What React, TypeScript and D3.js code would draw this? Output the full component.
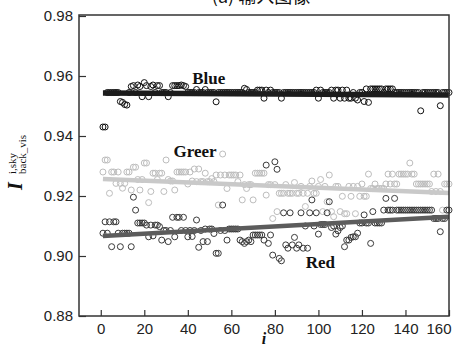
import * as d3 from "d3";
import { useEffect, useRef } from "react";

// tick values
const xTicks = [0, 20, 40, 60, 80, 100, 120, 140, 160];
const yTicks = [0.88, 0.9, 0.92, 0.94, 0.96, 0.98];

// sample index runs 1..160
const blueValues = [
    0.943, 0.943, 0.9545, 0.9545, 0.9545, 0.9545, 0.9545, 0.9545, 0.9515, 0.9512,
    0.9505, 0.9503, 0.9545, 0.9565, 0.9568, 0.9545, 0.957, 0.9565, 0.9531, 0.9578,
    0.9568, 0.9531, 0.9565, 0.957, 0.9545, 0.9568, 0.9568, 0.9545, 0.9545, 0.9545,
    0.9531, 0.9545, 0.9568, 0.9568, 0.9568, 0.9568, 0.957, 0.9568, 0.9565, 0.9545,
    0.9545, 0.9545, 0.9545, 0.9555, 0.9545, 0.9545, 0.9545, 0.9555, 0.9545, 0.9545,
    0.9545, 0.9545, 0.9514, 0.9545, 0.9545, 0.9545, 0.9545, 0.9545, 0.9545, 0.9545,
    0.9545, 0.9545, 0.9545, 0.9545, 0.9545, 0.9559, 0.9555, 0.9545, 0.9545, 0.9545,
    0.9545, 0.9553, 0.9553, 0.9553, 0.9526, 0.9553, 0.9545, 0.9553, 0.9545, 0.9545,
    0.9545, 0.9545, 0.9526, 0.9545, 0.9545, 0.9545, 0.9545, 0.9545, 0.9545, 0.9545,
    0.9545, 0.9545, 0.9545, 0.9545, 0.9545, 0.9545, 0.9545, 0.9545, 0.9553, 0.9526,
    0.9553, 0.9545, 0.9545, 0.9545, 0.9545, 0.9553, 0.9526, 0.9553, 0.9553, 0.9526,
    0.9553, 0.9526, 0.9553, 0.9526, 0.9526, 0.9545, 0.9526, 0.952, 0.9545, 0.9545,
    0.9515, 0.9557, 0.9512, 0.9557, 0.9557, 0.9557, 0.9557, 0.9557, 0.9557, 0.9545,
    0.9557, 0.9557, 0.9557, 0.9557, 0.9545, 0.9545, 0.9545, 0.9545, 0.9545, 0.9545,
    0.9545, 0.9545, 0.9545, 0.9545, 0.9545, 0.9545, 0.9484, 0.9545, 0.9545, 0.9545,
    0.9545, 0.9545, 0.9545, 0.9545, 0.9545, 0.9501, 0.9545, 0.9545, 0.9545, 0.9545
];

const greenValues = [
    0.928, 0.932, 0.932, 0.9209, 0.928, 0.928, 0.9242, 0.928, 0.9242, 0.9226,
    0.9242, 0.928, 0.928, 0.922, 0.9296, 0.9296, 0.9255, 0.922, 0.9255, 0.931,
    0.931, 0.9178, 0.9215, 0.9276, 0.9276, 0.9255, 0.9276, 0.9276, 0.9215, 0.932,
    0.9255, 0.925, 0.925, 0.922, 0.928, 0.928, 0.928, 0.928, 0.928, 0.924,
    0.928, 0.925, 0.929, 0.9248, 0.929, 0.9248, 0.9248, 0.9276, 0.9248, 0.9248,
    0.9258, 0.9248, 0.927, 0.917, 0.927, 0.934, 0.927, 0.9225, 0.927, 0.927,
    0.927, 0.927, 0.9248, 0.927, 0.9187, 0.9238, 0.9225, 0.9238, 0.9238, 0.9187,
    0.9276, 0.9276, 0.9276, 0.9276, 0.9276, 0.9203, 0.9238, 0.9238, 0.9125, 0.9238,
    0.9148, 0.9209, 0.9209, 0.9209, 0.9238, 0.9209, 0.9209, 0.9209, 0.9245, 0.9209,
    0.9209, 0.9232, 0.9209, 0.9165, 0.9209, 0.9232, 0.925, 0.9209, 0.9209, 0.9232,
    0.9255, 0.9148, 0.9232, 0.9181, 0.927, 0.9148, 0.9131, 0.9232, 0.9232, 0.9148,
    0.9199, 0.9141, 0.9141, 0.9232, 0.9199, 0.9232, 0.9141, 0.9232, 0.9199, 0.924,
    0.9199, 0.9199, 0.9273, 0.9225, 0.9225, 0.924, 0.9225, 0.9225, 0.9225, 0.9225,
    0.924, 0.9273, 0.924, 0.9273, 0.924, 0.924, 0.9273, 0.9273, 0.9273, 0.9273,
    0.9273, 0.931, 0.9273, 0.9273, 0.924, 0.924, 0.924, 0.924, 0.924, 0.924,
    0.924, 0.9215, 0.9273, 0.9215, 0.9273, 0.9215, 0.9153, 0.924, 0.924, 0.924
];

const redValues = [
    0.9076, 0.9114, 0.9076, 0.9114, 0.9031, 0.9114, 0.9114, 0.9076, 0.9031, 0.9076,
    0.9076, 0.9076, 0.9076, 0.9031, 0.9196, 0.9153, 0.911, 0.911, 0.911, 0.911,
    0.9103, 0.9064, 0.9103, 0.9067, 0.9103, 0.9103, 0.9098, 0.9053, 0.9085, 0.9085,
    0.9048, 0.9085, 0.9129, 0.9064, 0.9129, 0.9129, 0.9085, 0.9129, 0.9085, 0.9064,
    0.9085, 0.9065, 0.9085, 0.912, 0.9029, 0.9085, 0.9048, 0.909, 0.9048, 0.909,
    0.909, 0.9075, 0.9009, 0.9009, 0.9085, 0.917, 0.9085, 0.9053, 0.909, 0.909,
    0.909, 0.909, 0.909, 0.9053, 0.9048, 0.9042, 0.9048, 0.9053, 0.9048, 0.907,
    0.907, 0.907, 0.907, 0.907, 0.9053, 0.9303, 0.9042, 0.907, 0.9003, 0.9314,
    0.9289, 0.8992, 0.8984, 0.9144, 0.9037, 0.9026, 0.9144, 0.9037, 0.9062, 0.9026,
    0.9037, 0.9144, 0.9026, 0.91, 0.9026, 0.9144, 0.9187, 0.91, 0.9144, 0.9073,
    0.9105, 0.9105, 0.9105, 0.9144, 0.9181, 0.9095, 0.91, 0.9073, 0.9084, 0.9095,
    0.91, 0.9031, 0.9053, 0.9053, 0.9062, 0.9064, 0.9064, 0.9076, 0.911, 0.911,
    0.9137, 0.911, 0.911, 0.9042, 0.9148, 0.911, 0.911, 0.911, 0.911, 0.9153,
    0.9192, 0.9153, 0.9153, 0.9153, 0.9192, 0.9153, 0.9153, 0.9153, 0.9153, 0.9153,
    0.9153, 0.9153, 0.9153, 0.9153, 0.9153, 0.9153, 0.9153, 0.9153, 0.9153, 0.9153,
    0.9153, 0.9153, 0.9125, 0.9125, 0.9125, 0.9081, 0.9125, 0.9125, 0.9153, 0.9153
];

// fitted trend lines, [value at i=1, value at i=160]
const trendIndex = [1, 160];
const blueTrend = [0.9543, 0.9537];
const greenTrend = [0.9257, 0.921];
const redTrend = [0.9067, 0.9131];

const seriesNames = ["Blue", "Greer", "Red"];

const Chart = () => {
    const svgRef = useRef<SVGSVGElement | null>(null);

    useEffect(() => {
        if (!svgRef.current) return;
        document.body.style.margin = "0";

        const width = 459;
        const height = 348;
        const left = 79, right = 449, top = 15, bottom = 316;

        const svg = d3.select(svgRef.current)
            .attr("width", width)
            .attr("height", height)
            .style("display", "block")
            .style("background", "#fff");
        svg.selectAll("*").remove();

        const x = d3.scaleLinear().domain([-10, 160]).range([left, right]);
        const y = d3.scaleLinear().domain([0.88, 0.98]).range([bottom, 16]);

        // title, only its lower edge shows in the original
        svg.append("text")
            .attr("x", 261)
            .attr("y", 3)
            .attr("text-anchor", "middle")
            .attr("font-family", "'Noto Sans CJK SC', sans-serif")
            .attr("font-size", 18)
            .attr("fill", "#111")
            .text("(a) 输入图像");

        const series = [
            { name: seriesNames[0], values: blueValues, trend: blueTrend, pt: "#111", ln: "#1c1c1c", lw: 5.5 },
            { name: seriesNames[1], values: greenValues, trend: greenTrend, pt: "#bdbdbd", ln: "#c9c9c9", lw: 4.5 },
            { name: seriesNames[2], values: redValues, trend: redTrend, pt: "#3a3a3a", ln: "#5c5c5c", lw: 4.5 }
        ];

        const line = d3.line<[number, number]>()
            .x(d => x(d[0]))
            .y(d => y(d[1]));

        series.forEach(s => {
            svg.append("g")
                .selectAll("circle")
                .data(s.values)
                .join("circle")
                .attr("cx", (_, i) => x(i + 1))
                .attr("cy", d => y(d))
                .attr("r", 3)
                .attr("fill", "none")
                .attr("stroke", s.pt)
                .attr("stroke-width", 1);

            svg.append("path")
                .datum(trendIndex.map((t, k) => [t, s.trend[k]] as [number, number]))
                .attr("fill", "none")
                .attr("stroke", s.ln)
                .attr("stroke-width", s.lw)
                .attr("d", line);
        });

        // series labels
        const labelAt = [
            { i: 42, v: 0.9573 },
            { i: 33.4, v: 0.9329 },
            { i: 94.2, v: 0.8959 }
        ];
        seriesNames.forEach((n, k) => {
            svg.append("text")
                .attr("x", x(labelAt[k].i))
                .attr("y", y(labelAt[k].v))
                .attr("font-family", "'Liberation Serif', 'Times New Roman', serif")
                .attr("font-weight", "bold")
                .attr("font-size", 17)
                .attr("fill", "#111")
                .text(n);
        });

        // frame
        svg.append("rect")
            .attr("x", left)
            .attr("y", top)
            .attr("width", right - left)
            .attr("height", bottom - top)
            .attr("fill", "none")
            .attr("stroke", "#333")
            .attr("stroke-width", 1.5);

        // x axis, ticks pointing inward
        const xAxis = svg.append("g")
            .attr("transform", `translate(0,${bottom})`)
            .call(d3.axisBottom(x).tickValues(xTicks).tickSizeInner(-6).tickSizeOuter(0).tickPadding(7));
        xAxis.select(".domain").remove();
        xAxis.selectAll("line").attr("stroke", "#333").attr("stroke-width", 1.2);
        xAxis.selectAll("text")
            .attr("font-family", "'Liberation Sans', Arial, sans-serif")
            .attr("font-size", 15)
            .attr("fill", "#222");
        xAxis.selectAll<SVGTextElement, number>("text")
            .filter(d => d === 160)
            .attr("text-anchor", "end")
            .attr("dx", 2);

        // y axis
        const yAxis = svg.append("g")
            .attr("transform", `translate(${left},0)`)
            .call(d3.axisLeft(y).tickValues(yTicks).tickFormat(d3.format(".2f")).tickSizeInner(-7).tickSizeOuter(0).tickPadding(6));
        yAxis.select(".domain").remove();
        yAxis.selectAll("line").attr("stroke", "#333").attr("stroke-width", 1.2);
        yAxis.selectAll("text")
            .attr("font-family", "'Liberation Sans', Arial, sans-serif")
            .attr("font-size", 15)
            .attr("fill", "#222");

        // axis titles
        svg.append("text")
            .attr("x", 264)
            .attr("y", 344)
            .attr("text-anchor", "middle")
            .attr("font-family", "'Liberation Serif', serif")
            .attr("font-weight", "bold")
            .attr("font-style", "italic")
            .attr("font-size", 16)
            .attr("fill", "#111")
            .text("i");

        const yl = svg.append("g").attr("transform", "translate(22,190) rotate(-90)");
        yl.append("text")
            .attr("font-family", "'Liberation Serif', serif")
            .attr("font-weight", "bold")
            .attr("font-style", "italic")
            .attr("font-size", 20)
            .attr("fill", "#111")
            .text("I");
        yl.append("text")
            .attr("x", 16)
            .attr("y", -6)
            .attr("font-family", "'Liberation Serif', serif")
            .attr("font-size", 11)
            .attr("fill", "#111")
            .text("i,sky");
        yl.append("text")
            .attr("x", 16)
            .attr("y", 4)
            .attr("font-family", "'Liberation Serif', serif")
            .attr("font-size", 11)
            .attr("fill", "#111")
            .text("back_vis");
    }, []);

    return <svg ref={svgRef}></svg>;
};

export default function App() {
    return <Chart />;
}
